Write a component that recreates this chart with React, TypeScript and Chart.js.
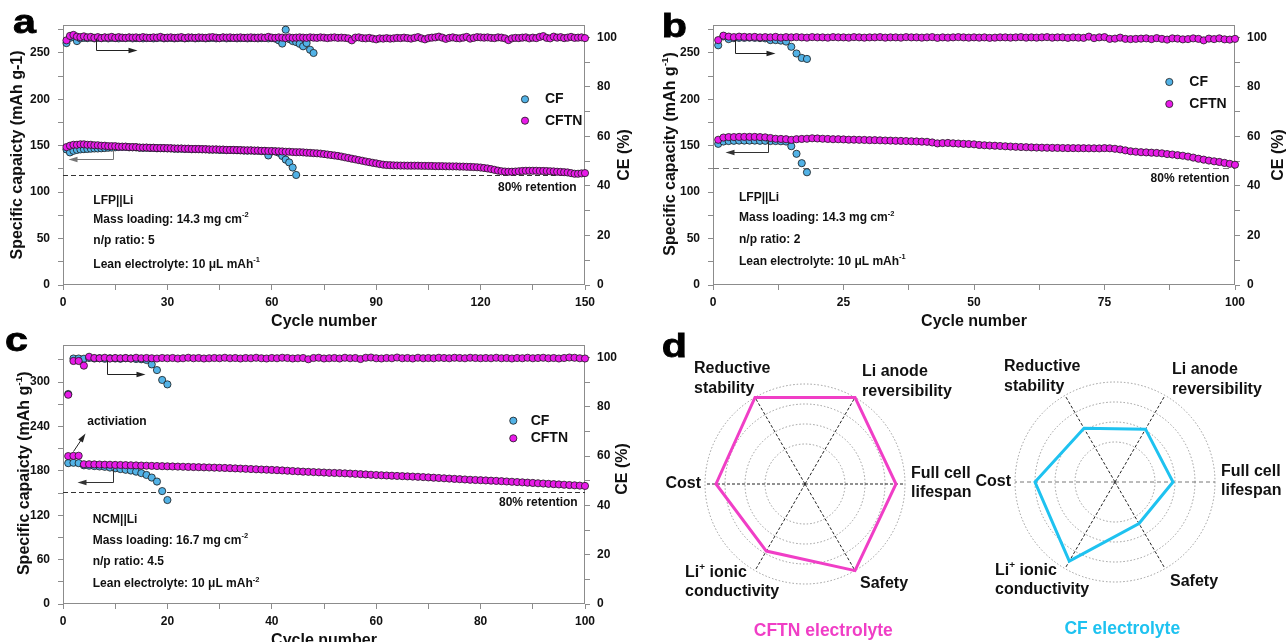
import React, { useEffect, useRef } from "react";
import { Chart, registerables } from "chart.js";

Chart.register(...registerables);

const FONT = "'Liberation Sans', Arial, Helvetica, sans-serif";
const CFTN_FILL = "#E81AE8";
const CF_FILL = "#52B2E6";
const RADAR_CFTN = "#F03EC6";
const RADAR_CF = "#1EC2F0";
const AXIS = "#8c8c8c";
const TEXT = "#111111";

// ---------------- Panel a data ----------------
const aCycleTicks = [0, 30, 60, 90, 120, 150];
const aCapTicks = [0, 50, 100, 150, 200, 250];
const ceTicks = [0, 20, 40, 60, 80, 100];
const aCftnCap = [
  148.5, 150, 151, 151, 151.5, 151.5, 151, 151, 150.5, 150.5,
  150, 150, 149.5, 149.5, 149.5, 149, 149, 149, 148.5, 148.5,
  148.5, 148, 148, 148, 147.8, 147.8, 147.5, 147.5, 147.5, 147.3,
  147.3, 147, 147, 147, 146.8, 146.8, 146.5, 146.5, 146.5, 146.3,
  146.3, 146, 146, 146, 145.8, 145.8, 145.5, 145.5, 145.5, 145.3,
  145.3, 145, 145, 145, 144.8, 144.8, 144.5, 144.5, 144.3, 144.3,
  144, 144, 143.8, 143.5, 143.5, 143.2, 143, 143, 142.8, 142.5,
  142.3, 142, 141.8, 141.5, 141, 140.5, 140, 139.5, 139, 138.3,
  137.5, 136.8, 136, 135.3, 134.5, 133.8, 133, 132.3, 131.6, 131,
  130.2, 129.6, 129.2, 129, 128.8, 128.7, 128.6, 128.6, 128.5, 128.5,
  128.5, 128.5, 128.3, 128.3, 128.2, 128.2, 128, 128, 128, 127.8,
  127.8, 127.7, 127.7, 127.5, 127.5, 127.3, 127.2, 127, 126.8, 126.5,
  126, 125.5, 124.8, 124, 123.2, 122.5, 122.2, 122, 122, 122.2,
  122.5, 122.8, 123, 123, 123, 123, 122.8, 122.8, 122.7, 122.5,
  122.3, 122, 121.8, 121.5, 121.2, 120.5, 119.8, 119.8, 120.2, 120.5,
];
const aCftnCe = [
  98.8, 100.6, 101, 100.3, 100.1, 100.4, 100, 100.2, 99.8, 100.1,
  99.7, 100, 99.9, 100.2, 99.8, 100.1, 99.9, 99.8, 100, 99.9,
  100, 99.7, 100.1, 99.9, 99.8, 100, 99.9, 100.2, 99.8, 99.9,
  100, 99.8, 99.9, 100.1, 99.7, 100, 99.9, 99.8, 100, 99.9,
  99.8, 100, 100.1, 99.9, 99.7, 100, 99.9, 100, 99.8, 99.9,
  100, 99.8, 99.9, 100, 99.7, 99.9, 100, 99.8, 100.2, 99.9,
  99.8, 100, 99.9, 99.7, 100, 99.8, 99.9, 100, 99.9, 99.8,
  100, 99.9, 99.8, 100, 99.9, 99.7, 99.9, 100, 99.8, 99.9,
  99.8, 99.6, 98.8, 99.9, 100, 99.7, 99.6, 99.8, 99.5, 99.2,
  99.6, 99.5, 99.7, 99.5, 99.6, 99.8, 99.7, 99.9, 99.7, 99.5,
  99.8, 100.1, 99.6, 99.2, 99.7, 99.9, 100, 100.3, 99.9, 99.4,
  99.8, 100, 99.7, 99.6, 99.9, 100.2, 99.5, 99.8, 100.1, 100,
  99.9, 100, 99.8, 99.7, 100, 99.9, 99.6, 98.9, 99.6, 99.8,
  99.7, 99.9, 100, 99.6, 99.9, 99.7, 100.2, 100.5, 99.8, 99.6,
  100.3, 99.9, 100.1, 99.7, 99.9, 100.2, 99.8, 99.9, 100, 99.7,
];
const aCfCap = [
  146, 142.8, 144.5, 145.5, 146, 146.3, 146.5, 146.8, 147, 147,
  147.2, 147.5, 147.8, 148, 148.3, 148.6, 148.7, 148.7, 148.3, 148.3,
  148.2, 147.8, 147.7, 147.8, 147.5, 147.6, 147.2, 147.3, 147.2, 147.1,
  147, 146.8, 146.7, 146.8, 146.5, 146.6, 146.2, 146.3, 146.2, 146.1,
  146, 145.8, 145.7, 145.8, 145.5, 145.6, 145.2, 145.3, 145.2, 145.1,
  145, 144.8, 144.7, 144.8, 144.5, 144.6, 144.2, 144.3,
  139.5, 143.8, 143.8, 142.5, 139, 135, 132, 126.5, 118.5,
];
const aCfCe = [
  97.7, 99.8, 100.2, 98.5, 99.6, 99.8, 99.7, 99.9, 99.6, 99.8,
  99.7, 99.9, 99.6, 99.8, 99.7, 99.6, 99.8, 99.7, 99.9, 99.6,
  99.7, 99.8, 99.6, 99.7, 99.8, 99.6, 99.7, 99.9, 99.6, 99.7,
  99.8, 99.6, 99.7, 99.8, 99.6, 99.7, 99.9, 99.6, 99.7, 99.8,
  99.6, 99.7, 99.8, 99.6, 99.7, 99.9, 99.6, 99.7, 99.8, 99.6,
  99.7, 99.8, 99.6, 99.7, 99.9, 99.6, 99.7, 99.8, 99.6, 99.7,
  99.5, 98.8, 97.5, 103.1, 99.3, 98.5, 98.1, 97.4, 96.4, 97.7, 95, 93.7,
];
const aRetention = 118.5;

// ---------------- Panel b data ----------------
const bCycleTicks = [0, 25, 50, 75, 100];
const bCapTicks = [0, 50, 100, 150, 200, 250];
const bCftnCap = [
  156.4, 158.8, 159.3, 159.3, 159.5, 159.5, 159.5, 159.5, 159.3, 159,
  158.3, 157.5, 157.3, 157, 156.3, 157, 157.3, 157.5, 158, 157.8,
  157.5, 157.3, 157, 157, 156.8, 156.5, 156.5, 156.3, 156.2, 156,
  156, 155.8, 155.6, 155.5, 155.3, 155.2, 155, 154.8, 154.6, 154.4,
  154.2, 153.5, 152.5, 152.8, 153, 152.6, 152.3, 152, 151.8, 151.5,
  150.8, 150.5, 150.2, 150, 149.7, 149.4, 149.1, 148.8, 148.6, 148.4,
  148.2, 148, 147.9, 147.8, 147.7, 147.6, 147.5, 147.4, 147.4, 147.3,
  147.3, 147.2, 147.2, 147.1, 147.4, 147.2, 146.7, 146, 145, 144,
  143.5, 143, 142.8, 142.5, 142.2, 141.8, 141, 140.5, 139.8, 139.2,
  138.3, 137.2, 136, 135, 134, 133.2, 132.5, 131.5, 130.5, 129.5,
];
const bCftnCe = [
  98.9, 100.7, 100.3, 100.1, 100.3, 100.2, 100.1, 100.2, 100, 100.1,
  100, 100.2, 99.9, 100.1, 100, 100.1, 100, 99.9, 100.1, 100,
  100, 99.9, 100.1, 100, 100, 99.9, 100.1, 100, 99.9, 100,
  100, 100.1, 99.9, 100, 100, 99.9, 100.1, 100, 100, 99.9,
  100, 100.1, 99.8, 100, 99.9, 100, 100.1, 100, 99.9, 100,
  99.9, 100, 99.8, 99.9, 100, 100, 99.9, 100, 100.1, 99.9,
  100, 99.9, 100, 100.1, 99.9, 100, 100, 99.8, 100, 99.9,
  99.8, 100.3, 99.7, 100, 100.1, 99.4, 99.5, 99.9, 99.4, 99.3,
  99.4, 99.5, 99.6, 99.3, 99.7, 99.4, 99.1, 99.6, 99.5, 99.2,
  99.3, 99.6, 99.4, 98.8, 99.5, 99.3, 99.6, 99.2, 99.1, 99.4,
];
const bCfCap = [
  152, 154.5, 155, 155.3, 155.5, 155.5, 155.5, 155.5, 155.3, 155.3,
  155, 155, 154.8, 154.5, 149.5, 141.3, 131.2, 121.4,
];
const bCfCe = [
  96.8, 100.4, 99.3, 99.7, 99.8, 99.8, 99.9, 99.8, 99.7, 99.6,
  98.9, 98.9, 98.7, 98.3, 96.2, 93.5, 91.7, 91.3,
];
const bRetention = 126;

// ---------------- Panel c data ----------------
const cCycleTicks = [0, 20, 40, 60, 80, 100];
const cCapTicks = [0, 60, 120, 180, 240, 300];
const cCftnCap = [
  200, 200.3, 200.5, 189, 189, 188.8, 188.6, 188.4, 188.3, 188.1,
  188, 187.8, 187.6, 187.4, 187.2, 187, 186.8, 186.6, 186.4, 186.2,
  186, 185.8, 185.6, 185.4, 185.2, 185, 184.8, 184.6, 184.4, 184.2,
  184, 183.7, 183.4, 183.1, 182.8, 182.5, 182.2, 181.9, 181.6, 181.3,
  181, 180.6, 180.2, 179.8, 179.4, 179, 178.7, 178.4, 178.1, 177.8,
  177.4, 177.2, 177, 176.7, 176.4, 176, 175.6, 175.2, 174.8, 174.4,
  174.1, 173.8, 173.5, 173.2, 172.9, 172.6, 172.3, 172, 171.6, 171.2,
  170.8, 170.4, 170, 169.6, 169.2, 168.8, 168.4, 168, 167.7, 167.4,
  167.1, 166.8, 166.5, 166.1, 165.7, 165.3, 164.9, 164.5, 164.1, 163.7,
  163.3, 162.9, 162.5, 162.1, 161.7, 161.3, 160.9, 160.5, 160.1, 159.7,
];
const cCftnCe = [
  84.9, 98.6, 98.6, 96.7, 100.3, 99.8, 99.7, 99.9, 99.6, 99.8,
  99.7, 99.8, 99.6, 99.9, 99.7, 99.8, 99.7, 99.6, 99.8, 99.7,
  99.8, 99.6, 99.7, 99.9, 99.7, 99.8, 99.6, 99.7, 99.8, 99.7,
  99.9, 99.7, 99.8, 99.6, 99.8, 99.7, 99.9, 99.7, 99.6, 99.8,
  99.7, 99.9, 99.8, 99.6, 99.7, 99.8, 99.3, 99.8, 99.9, 99.6,
  99.7, 99.8, 99.6, 99.9, 99.7, 99.8, 99.4, 99.9, 100, 99.7,
  99.6, 99.8, 99.7, 100, 99.7, 99.8, 99.6, 99.9, 99.7, 99.8,
  99.7, 99.9, 99.8, 99.7, 99.9, 99.8, 99.7, 99.9, 99.8, 99.7,
  99.8, 99.7, 99.9, 99.7, 99.8, 99.6, 99.8, 99.7, 99.9, 99.7,
  99.8, 99.9, 99.7, 99.8, 99.6, 99.8, 100, 99.9, 99.7, 99.6,
];
const cCfCap = [
  190.5, 191, 190.5, 187.5, 187, 186.5, 186, 185.5, 184.5, 183.5,
  182.5, 181.5, 180.5, 179, 177, 174.5, 171, 165.6, 152.7, 140.6,
];
const cCfCe = [
  85.2, 99.6, 99.6, 99.5, 99.8, 99.6, 99.7, 99.5, 99.7, 99.6,
  99.5, 99.7, 99.6, 99.4, 99.3, 99, 97.2, 94.9, 90.9, 89.1,
];
const cRetention = 152;

// ---------------- Panel d data ----------------
const radarAxes = [
  ["Li anode", "reversibility"],
  ["Full cell", "lifespan"],
  ["Safety"],
  ["Li+ ionic", "conductivity"],
  ["Cost"],
  ["Reductive", "stability"],
];
const cftnScores = [5, 4.55, 5, 3.87, 4.45, 5];
const cfScores = [3.05, 2.9, 2.4, 4.57, 4.0, 3.1];

// ---------------- layout / style ----------------
const panelA = {
  left: 0, top: 0, w: 640, h: 330, padTop: 25, yW: 63, y1W: 55, xH: 45,
  xMax: 150, xStep: 15, xTicks: aCycleTicks,
  yMax: 280, yStep: 25, yTicks: aCapTicks,
  y1Max: 105, y1Step: 10, y1Ticks: ceTicks,
  cftnCap: aCftnCap, cftnCe: aCftnCe, cfCap: aCfCap, cfCe: aCfCe,
  retention: aRetention, dashColor: "#333", dash: [5, 3],
  letter: { t: "a", x: 13, y: 33 },
  xTitle: { x: 324, y: 322 },
  yTitle: { t: "Specific capaicty (mAh g-1)", x: 18, y: 155 },
  y1Title: { x: 625, y: 155 },
  legend: { x: 525, y: [99.3, 120.7], tx: 545 },
  retLabel: { x: 576.7, y: 187.3 },
  notes: { x: 93.3, y: [200.7, 219.3, 240.7, 264.3], lines: ["LFP||Li", "Mass loading: 14.3 mg cm{-2}", "n/p ratio: 5", "Lean electrolyte: 10 μL mAh{-1}"] },
  extraText: [] as any[],
  arrows: [
    { axis: "y1", pts: [[9.4, 99.9], [9.4, 95], [21.2, 95]], color: "#222" },
    { axis: "y", pts: [[14.5, 146.5], [14.5, 135.5], [1.5, 135.5]], color: "#777" },
  ],
};

const panelB = {
  left: 640, top: 0, w: 647, h: 330, padTop: 25, yW: 73, y1W: 52, xH: 45,
  xMax: 100, xStep: 12.5, xTicks: bCycleTicks,
  yMax: 280, yStep: 25, yTicks: bCapTicks,
  y1Max: 105, y1Step: 10, y1Ticks: ceTicks,
  cftnCap: bCftnCap, cftnCe: bCftnCe, cfCap: bCfCap, cfCe: bCfCe,
  retention: bRetention, dashColor: "#777", dash: [6, 4],
  letter: { t: "b", x: 21.7, y: 36.7 },
  xTitle: { x: 334, y: 322 },
  yTitle: { t: "Specific capacity (mAh g{-1})", x: 30.8, y: 154 },
  y1Title: { x: 639, y: 155 },
  legend: { x: 529.3, y: [82, 104], tx: 549.3 },
  retLabel: { x: 589.3, y: 178.3 },
  notes: { x: 99, y: [197.5, 218, 239.5, 261.7], lines: ["LFP||Li", "Mass loading: 14.3 mg cm{-2}", "n/p ratio: 2", "Lean electrolyte: 10 μL mAh{-1}"] },
  extraText: [] as any[],
  arrows: [
    { axis: "y1", pts: [[4.3, 99.4], [4.3, 93.7], [11.9, 93.7]], color: "#222" },
    { axis: "y", pts: [[10.6, 155.7], [10.6, 143], [2.3, 143]], color: "#333" },
  ],
};

const panelC = {
  left: 0, top: 330, w: 640, h: 312, padTop: 13, yW: 63, y1W: 55, xH: 38,
  xMax: 100, xStep: 10, xTicks: cCycleTicks,
  yMax: 350, yStep: 30, yTicks: cCapTicks,
  y1Max: 105, y1Step: 10, y1Ticks: ceTicks,
  cftnCap: cCftnCap, cftnCe: cCftnCe, cfCap: cCfCap, cfCe: cCfCe,
  retention: cRetention, dashColor: "#333", dash: [5, 3],
  letter: { t: "c", x: 5, y: 20.7 },
  xTitle: { x: 324, y: 311 },
  yTitle: { t: "Specific capaicty (mAh g{-1})", x: 25, y: 143.3 },
  y1Title: { x: 622.5, y: 139 },
  legend: { x: 513.3, y: [90.7, 108.3], tx: 530.7 },
  retLabel: { x: 577.7, y: 172.7 },
  notes: { x: 92.7, y: [189.3, 210.7, 231.7, 254], lines: ["NCM||Li", "Mass loading: 16.7 mg cm{-2}", "n/p ratio: 4.5", "Lean electrolyte: 10 μL mAh{-2}"] },
  extraText: [{ t: "activiation", x: 87.3, y: 91.7 }],
  arrows: [
    { axis: "y1", pts: [[8.4, 99], [8.4, 93.3], [15.7, 93.3]], color: "#222" },
    { axis: "y", pts: [[9.5, 184.5], [9.5, 164.4], [2.6, 164.4]], color: "#333" },
    { axis: "y", pts: [[1.9, 207], [4.2, 231.6]], color: "#222" },
  ],
};

const radarLabelPos = [
  { dx: 57, dy: [-112, -92.5], align: "left" },
  { dx: 106, dy: [-10, 9], align: "left" },
  { dx: 55, dy: [99.5], align: "left" },
  { dx: -120, dy: [89, 107.5], align: "left" },
  { dx: -104, dy: [0], align: "right" },
  { dx: -111, dy: [-115, -95.5], align: "left" },
];

const radarLeft = {
  left: 650, top: 330, w: 340, h: 312,
  scores: cftnScores, color: RADAR_CFTN, title: "CFTN electrolyte", titleX: 173.3, titleY: 301,
  pad: { left: 55.7, top: 54.3, right: 84.3, bottom: 57.7 },
  letter: { t: "d", x: 11.7, y: 26.7 },
  hLine: { color: "#222", dash: [3, 2] },
};
const radarRight = {
  left: 960, top: 330, w: 327, h: 312,
  scores: cfScores, color: RADAR_CF, title: "CF electrolyte", titleX: 162.3, titleY: 299,
  pad: { left: 55, top: 52.7, right: 72, bottom: 59.3 },
  letter: null as any,
  hLine: { color: "#777", dash: [4, 3] },
};

// ---------------- drawing helpers ----------------
function parseRich(s: string): [string, boolean][] {
  const out: [string, boolean][] = [];
  s.split(/(\{[^}]*\})/).forEach((p) => {
    if (!p) return;
    if (p[0] === "{") out.push([p.slice(1, -1), true]);
    else out.push([p, false]);
  });
  return out;
}

function drawRich(ctx: CanvasRenderingContext2D, s: string, x: number, y: number, size: number, align: string, color: string, rot = 0) {
  const segs = parseRich(s);
  ctx.save();
  ctx.translate(x, y);
  if (rot) ctx.rotate(rot);
  const supSize = size * 0.62;
  const widths = segs.map(([t, sp]) => {
    ctx.font = `bold ${sp ? supSize : size}px ${FONT}`;
    return ctx.measureText(t).width;
  });
  const total = widths.reduce((a, b) => a + b, 0);
  let cx = align === "left" ? 0 : align === "right" ? -total : -total / 2;
  ctx.fillStyle = color;
  ctx.textAlign = "left";
  ctx.textBaseline = "middle";
  segs.forEach(([t, sp], i) => {
    ctx.font = `bold ${sp ? supSize : size}px ${FONT}`;
    ctx.fillText(t, cx, sp ? -size * 0.36 : 0);
    cx += widths[i];
  });
  ctx.restore();
}

function drawLetter(ctx: CanvasRenderingContext2D, t: string, x: number, y: number) {
  ctx.save();
  ctx.translate(x, y);
  ctx.scale(1.25, 1);
  ctx.font = `bold 33px ${FONT}`;
  ctx.fillStyle = "#000";
  ctx.strokeStyle = "#000";
  ctx.lineWidth = 0.8;
  ctx.textAlign = "left";
  ctx.textBaseline = "alphabetic";
  ctx.fillText(t, 0, 0);
  ctx.strokeText(t, 0, 0);
  ctx.restore();
}

function drawArrow(ctx: CanvasRenderingContext2D, pts: number[][], color: string) {
  ctx.save();
  ctx.strokeStyle = color;
  ctx.fillStyle = color;
  ctx.lineWidth = 1;
  const n = pts.length;
  const [x1, y1] = pts[n - 2];
  const [x2, y2] = pts[n - 1];
  const a = Math.atan2(y2 - y1, x2 - x1);
  const L = 9;
  const W = 2.8;
  ctx.beginPath();
  pts.forEach(([x, y], i) => {
    const px = i === n - 1 ? x - (L - 1) * Math.cos(a) : x;
    const py = i === n - 1 ? y - (L - 1) * Math.sin(a) : y;
    if (i === 0) ctx.moveTo(px, py);
    else ctx.lineTo(px, py);
  });
  ctx.stroke();
  ctx.beginPath();
  ctx.moveTo(x2, y2);
  ctx.lineTo(x2 - L * Math.cos(a) + W * Math.sin(a), y2 - L * Math.sin(a) - W * Math.cos(a));
  ctx.lineTo(x2 - L * Math.cos(a) - W * Math.sin(a), y2 - L * Math.sin(a) + W * Math.cos(a));
  ctx.closePath();
  ctx.fill();
  ctx.restore();
}

function drawMarker(ctx: CanvasRenderingContext2D, x: number, y: number, color: string) {
  ctx.save();
  ctx.beginPath();
  ctx.arc(x, y, 3.6, 0, Math.PI * 2);
  ctx.fillStyle = color;
  ctx.fill();
  ctx.lineWidth = 0.8;
  ctx.strokeStyle = "#1a1a1a";
  ctx.stroke();
  ctx.restore();
}

// ---------------- chart builders ----------------
function axisCfg(pos: string, max: number, step: number, major: number[], size: number, isX: boolean, padding: number) {
  return {
    type: "linear",
    position: pos,
    min: 0,
    max,
    ticks: {
      stepSize: step,
      includeBounds: false,
      autoSkip: false,
      maxRotation: 0,
      minRotation: 0,
      padding,
      color: TEXT,
      font: { family: FONT, size: 12, weight: "bold" },
      callback: (v: number) => (major.includes(v) ? String(v) : ""),
    },
    afterBuildTicks: (s: any) => {
      s.ticks = s.ticks.filter((t: any) => Math.abs(t.value / step - Math.round(t.value / step)) < 1e-6);
    },
    grid: { drawOnChartArea: false, drawTicks: true, tickLength: 5, color: AXIS, lineWidth: 1 },
    border: { display: false },
    afterFit: (s: any) => {
      if (isX) s.height = size;
      else s.width = size;
    },
  };
}

function buildCycleChart(canvas: HTMLCanvasElement, p: any) {
  const toPts = (arr: number[]) => arr.map((v, i) => ({ x: i + 1, y: v }));
  const ds = (label: string, arr: number[], axis: string, color: string) => ({
    label,
    data: toPts(arr),
    yAxisID: axis,
    backgroundColor: color,
    borderColor: "#1a1a1a",
    borderWidth: 0.8,
    pointRadius: 3.6,
    pointHoverRadius: 3.6,
    showLine: false,
    clip: false as any,
  });
  const overlay = {
    id: "cycleOverlay",
    beforeDatasetsDraw(chart: any) {
      const { ctx, chartArea: ca, scales } = chart;
      ctx.save();
      ctx.strokeStyle = AXIS;
      ctx.lineWidth = 1;
      ctx.strokeRect(Math.round(ca.left) + 0.5, Math.round(ca.top) + 0.5, Math.round(ca.right - ca.left) - 1, Math.round(ca.bottom - ca.top) - 1);
      const y = Math.round(scales.y.getPixelForValue(p.retention)) + 0.5;
      ctx.setLineDash(p.dash);
      ctx.strokeStyle = p.dashColor;
      ctx.beginPath();
      ctx.moveTo(ca.left, y);
      ctx.lineTo(ca.right, y);
      ctx.stroke();
      ctx.restore();
    },
    afterDraw(chart: any) {
      const { ctx, scales } = chart;
      p.arrows.forEach((a: any) => {
        const pts = a.pts.map(([x, y]: number[]) => [
          Math.round(scales.x.getPixelForValue(x)) + 0.5,
          Math.round(scales[a.axis].getPixelForValue(y)) + 0.5,
        ]);
        drawArrow(ctx, pts, a.color);
      });
      p.notes.lines.forEach((t: string, i: number) => drawRich(ctx, t, p.notes.x, p.notes.y[i], 12, "left", TEXT));
      p.extraText.forEach((e: any) => drawRich(ctx, e.t, e.x, e.y, 12, "left", TEXT));
      drawRich(ctx, "80% retention", p.retLabel.x, p.retLabel.y, 12, "right", TEXT);
      drawMarker(ctx, p.legend.x, p.legend.y[0], CF_FILL);
      drawMarker(ctx, p.legend.x, p.legend.y[1], CFTN_FILL);
      drawRich(ctx, "CF", p.legend.tx, p.legend.y[0], 14, "left", TEXT);
      drawRich(ctx, "CFTN", p.legend.tx, p.legend.y[1], 14, "left", TEXT);
      drawRich(ctx, "Cycle number", p.xTitle.x, p.xTitle.y, 16, "center", TEXT);
      drawRich(ctx, p.yTitle.t, p.yTitle.x, p.yTitle.y, 16, "center", TEXT, -Math.PI / 2);
      drawRich(ctx, "CE (%)", p.y1Title.x, p.y1Title.y, 16, "center", TEXT, -Math.PI / 2);
      drawLetter(ctx, p.letter.t, p.letter.x, p.letter.y);
    },
  };
  return new Chart(canvas, {
    type: "scatter",
    data: {
      datasets: [
        ds("CFTN", p.cftnCe, "y1", CFTN_FILL),
        ds("CFTN", p.cftnCap, "y", CFTN_FILL),
        ds("CF", p.cfCe, "y1", CF_FILL),
        ds("CF", p.cfCap, "y", CF_FILL),
      ],
    },
    options: {
      responsive: false,
      animation: false,
      devicePixelRatio: 1,
      layout: { padding: { top: p.padTop, left: 0, right: 0, bottom: 0 } },
      plugins: { legend: { display: false }, tooltip: { enabled: false }, title: { display: false } },
      scales: {
        x: axisCfg("bottom", p.xMax, p.xStep, p.xTicks, p.xH, true, 5) as any,
        y: axisCfg("left", p.yMax, p.yStep, p.yTicks, p.yW, false, 8) as any,
        y1: axisCfg("right", p.y1Max, p.y1Step, p.y1Ticks, p.y1W, false, 7) as any,
      },
    } as any,
    plugins: [overlay],
  });
}

function buildRadar(canvas: HTMLCanvasElement, r: any) {
  const overlay = {
    id: "radarOverlay",
    afterDraw(chart: any) {
      const ctx = chart.ctx;
      const sc = chart.scales.r;
      const cx = sc.xCenter;
      const cy = sc.yCenter;
      radarAxes.forEach((lines, i) => {
        const L = radarLabelPos[i];
        lines.forEach((line, j) => drawRich(ctx, line.replace("Li+", "Li{+}"), cx + L.dx, cy + L.dy[j], 16, L.align, TEXT));
      });
      drawRich(ctx, r.title, r.titleX, r.titleY, 17.5, "center", r.color);
      if (r.letter) drawLetter(ctx, r.letter.t, r.letter.x, r.letter.y);
    },
  };
  return new Chart(canvas, {
    type: "radar",
    data: {
      labels: radarAxes,
      datasets: [
        {
          data: r.scores,
          borderColor: r.color,
          borderWidth: 3,
          borderJoinStyle: "miter",
          pointRadius: 0,
          pointHoverRadius: 0,
          fill: false,
          backgroundColor: "rgba(0,0,0,0)",
          tension: 0,
        },
      ],
    },
    options: {
      responsive: false,
      animation: false,
      devicePixelRatio: 1,
      layout: { padding: r.pad },
      plugins: { legend: { display: false }, tooltip: { enabled: false } },
      scales: {
        r: {
          min: 0,
          max: 5,
          startAngle: 30,
          ticks: { display: false, stepSize: 1 },
          pointLabels: { display: false },
          grid: {
            circular: true,
            lineWidth: 1,
            color: (c: any) => (c.tick && c.tick.value === 1 ? "rgba(0,0,0,0)" : "#9a9a9a"),
          },
          border: { dash: [1.5, 2] },
          angleLines: {
            display: true,
            lineWidth: 1,
            color: (c: any) => (c.index === 1 || c.index === 4 ? r.hLine.color : "#222"),
            borderDash: (c: any) => (c.index === 1 || c.index === 4 ? r.hLine.dash : [3, 2]),
          },
        },
      },
    } as any,
    plugins: [overlay],
  });
}

export default function App() {
  const aRef = useRef<HTMLCanvasElement>(null);
  const bRef = useRef<HTMLCanvasElement>(null);
  const cRef = useRef<HTMLCanvasElement>(null);
  const dlRef = useRef<HTMLCanvasElement>(null);
  const drRef = useRef<HTMLCanvasElement>(null);

  useEffect(() => {
    const charts = [
      buildCycleChart(aRef.current!, panelA),
      buildCycleChart(bRef.current!, panelB),
      buildCycleChart(cRef.current!, panelC),
      buildRadar(dlRef.current!, radarLeft),
      buildRadar(drRef.current!, radarRight),
    ];
    return () => charts.forEach((c) => c.destroy());
  }, []);

  const cv = (ref: any, p: any) => (
    <canvas
      ref={ref}
      width={p.w}
      height={p.h}
      style={{ position: "absolute", left: p.left, top: p.top, width: p.w, height: p.h, display: "block" }}
    />
  );

  return (
    <div style={{ position: "fixed", left: 0, top: 0, width: 1287, height: 642, background: "#fff", overflow: "hidden" }}>
      {cv(aRef, panelA)}
      {cv(bRef, panelB)}
      {cv(cRef, panelC)}
      {cv(dlRef, radarLeft)}
      {cv(drRef, radarRight)}
    </div>
  );
}
